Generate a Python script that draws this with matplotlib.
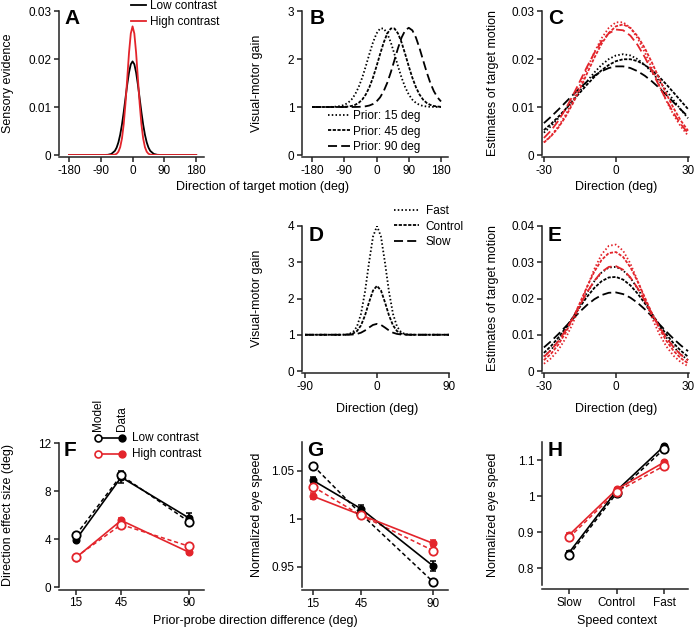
import numpy as np
import matplotlib.pyplot as plt

plt.rcParams['font.family'] = ['Liberation Sans', 'DejaVu Sans']
plt.rcParams['lines.scale_dashes'] = False
plt.rcParams['axes.unicode_minus'] = False

RED = '#e3242b'
DOT = (0, (1.1, 1.6))
DASH = (0, (2.3, 1.1))
LONG = (0, (6.5, 3.0))

# ---- panel A: sensory evidence ----
A_x = [-180, -80, -70, -60, -50, -45, -40, -35, -30, -25, -20, -15, -10, -5, 0,
       5, 10, 15, 20, 25, 30, 35, 40, 45, 50, 60, 70, 80, 180]
A_low = [0, 0.00001, 0.00004, 0.00022, 0.00086, 0.00155, 0.00264, 0.00422, 0.00633,
         0.00893, 0.01183, 0.01472, 0.01721, 0.01890, 0.0195, 0.01890, 0.01721,
         0.01472, 0.01183, 0.00893, 0.00633, 0.00422, 0.00264, 0.00155, 0.00086,
         0.00022, 0.00004, 0.00001, 0]
A_high = [0, 0, 0, 0.00001, 0.00009, 0.00026, 0.00069, 0.00163, 0.00343, 0.00643,
          0.01075, 0.01603, 0.02133, 0.02531, 0.0268, 0.02531, 0.02133, 0.01603,
          0.01075, 0.00643, 0.00343, 0.00163, 0.00069, 0.00026, 0.00009, 0.00001,
          0, 0, 0]

# ---- panel B: visual-motor gain for different priors ----
B_x = list(range(-180, 181, 10))
B_p15 = [1.0, 1.0, 1.0, 1.0, 1.0, 1.002, 1.004, 1.010, 1.021, 1.044, 1.085, 1.153,
         1.260, 1.412, 1.610, 1.848, 2.103, 2.343, 2.532, 2.636, 2.636, 2.532, 2.343,
         2.103, 1.848, 1.610, 1.412, 1.260, 1.153, 1.085, 1.044, 1.021, 1.010, 1.004,
         1.002, 1.001, 1.0]
B_p45 = [1.0, 1.0, 1.0, 1.0, 1.0, 1.0, 1.0, 1.0, 1.001, 1.004, 1.010, 1.021, 1.044,
         1.085, 1.153, 1.260, 1.412, 1.610, 1.848, 2.103, 2.343, 2.532, 2.636, 2.636,
         2.532, 2.343, 2.103, 1.848, 1.610, 1.412, 1.260, 1.153, 1.085, 1.044, 1.021,
         1.010, 1.004]
B_p90 = [1.0, 1.0, 1.0, 1.0, 1.0, 1.0, 1.0, 1.0, 1.0, 1.0, 1.0, 1.0, 1.001, 1.003,
         1.006, 1.015, 1.031, 1.062, 1.115, 1.201, 1.330, 1.505, 1.726, 1.975, 2.227,
         2.447, 2.597, 2.65, 2.597, 2.447, 2.227, 1.975, 1.726, 1.505, 1.330, 1.201,
         1.115]
B_labels = ['Prior: 15 deg', 'Prior: 45 deg', 'Prior: 90 deg']

# ---- panel C: estimates, prior conditions ----
C_x = list(range(-30, 31, 3))
C_low_15 = [0.00465, 0.00604, 0.00765, 0.00946, 0.01140, 0.01341, 0.01538, 0.01720,
            0.01877, 0.01998, 0.02074, 0.02100, 0.02074, 0.01998, 0.01877, 0.01720,
            0.01538, 0.01341, 0.01140, 0.00946, 0.00765]
C_low_45 = [0.00519, 0.00649, 0.00796, 0.00957, 0.01127, 0.01300, 0.01469, 0.01627,
            0.01765, 0.01876, 0.01955, 0.01995, 0.01995, 0.01955, 0.01876, 0.01765,
            0.01627, 0.01469, 0.01300, 0.01127, 0.00957]
C_low_90 = [0.00664, 0.00799, 0.00945, 0.01097, 0.01249, 0.01397, 0.01533, 0.01651,
            0.01746, 0.01812, 0.01846, 0.01846, 0.01812, 0.01746, 0.01651, 0.01533,
            0.01397, 0.01249, 0.01097, 0.00945, 0.00799]
C_high_15 = [0.00262, 0.00403, 0.00592, 0.00834, 0.01125, 0.01455, 0.01802, 0.02139,
             0.02432, 0.02649, 0.02765, 0.02765, 0.02649, 0.02432, 0.02139, 0.01802,
             0.01455, 0.01125, 0.00834, 0.00592, 0.00403]
C_high_45 = [0.00260, 0.00393, 0.00571, 0.00797, 0.01069, 0.01377, 0.01705, 0.02027,
             0.02316, 0.02543, 0.02682, 0.02720, 0.02647, 0.02476, 0.02226, 0.01922,
             0.01595, 0.01271, 0.00974, 0.00716, 0.00506]
C_high_90 = [0.00355, 0.00512, 0.00713, 0.00957, 0.01236, 0.01538, 0.01843, 0.02128,
             0.02366, 0.02534, 0.02614, 0.02598, 0.02487, 0.02293, 0.02037, 0.01742,
             0.01436, 0.01140, 0.00871, 0.00642, 0.00455]

# ---- panel D: visual-motor gain for speed contexts ----
D_x = [-90, -60, -45, -40, -35, -30, -25, -20, -15, -10, -5, 0,
       5, 10, 15, 20, 25, 30, 35, 40, 45, 60, 90]
D_fast = [1.0, 1.0, 1.0, 1.004, 1.019, 1.073, 1.227, 1.575, 2.184, 2.985, 3.706, 4.0,
          3.706, 2.985, 2.184, 1.575, 1.227, 1.073, 1.019, 1.004, 1.0, 1.0, 1.0]
D_control = [1.0, 1.0, 1.0, 1.002, 1.009, 1.033, 1.102, 1.259, 1.533, 1.893, 2.218,
             2.35, 2.218, 1.893, 1.533, 1.259, 1.102, 1.033, 1.009, 1.002, 1.0, 1.0, 1.0]
D_slow = [1.0, 1.0, 1.0, 1.0, 1.002, 1.007, 1.023, 1.057, 1.118, 1.198, 1.271, 1.3,
          1.271, 1.198, 1.118, 1.057, 1.023, 1.007, 1.002, 1.0, 1.0, 1.0, 1.0]
D_labels = ['Fast', 'Control', 'Slow']

# ---- panel E: estimates, speed contexts ----
E_x = list(range(-30, 31, 3))
E_low_fast = [0.00400, 0.00589, 0.00832, 0.01126, 0.01461, 0.01818, 0.02168, 0.02478,
              0.02716, 0.02853, 0.02873, 0.02774, 0.02567, 0.02278, 0.01937, 0.01579,
              0.01234, 0.00924, 0.00664, 0.00457, 0.00302]
E_low_ctrl = [0.00500, 0.00691, 0.00921, 0.01187, 0.01475, 0.01771, 0.02051, 0.02293,
              0.02476, 0.02580, 0.02595, 0.02520, 0.02362, 0.02137, 0.01867, 0.01574,
              0.01281, 0.01006, 0.00763, 0.00559, 0.00395]
E_low_slow = [0.00650, 0.00824, 0.01017, 0.01223, 0.01434, 0.01639, 0.01825, 0.01980,
              0.02094, 0.02158, 0.02167, 0.02121, 0.02023, 0.01880, 0.01703, 0.01504,
              0.01294, 0.01085, 0.00886, 0.00706, 0.00548]
E_high_fast = [0.00200, 0.00351, 0.00579, 0.00898, 0.01310, 0.01797, 0.02319, 0.02815,
               0.03215, 0.03453, 0.03488, 0.03315, 0.02963, 0.02491, 0.01970, 0.01465,
               0.01025, 0.00675, 0.00418, 0.00243, 0.00133]
E_high_ctrl = [0.00300, 0.00479, 0.00729, 0.01053, 0.01444, 0.01882, 0.02331, 0.02742,
               0.03064, 0.03253, 0.03281, 0.03143, 0.02861, 0.02474, 0.02033, 0.01586,
               0.01176, 0.00829, 0.00554, 0.00352, 0.00213]
E_high_slow = [0.00392, 0.00580, 0.00823, 0.01119, 0.01457, 0.01819, 0.02174, 0.02490,
               0.02732, 0.02872, 0.02893, 0.02792, 0.02581, 0.02285, 0.01939, 0.01576,
               0.01228, 0.00916, 0.00655, 0.00448, 0.00294]

# ---- panel F: direction effect size ----
F_x = [15, 45, 90]
F_low_data = [3.95, 9.15, 5.75]
F_low_err = [0.2, 0.5, 0.4]
F_low_model = [4.35, 9.3, 5.45]
F_high_data = [2.45, 5.55, 2.9]
F_high_err = [0.15, 0.2, 0.15]
F_high_model = [2.5, 5.2, 3.4]

# ---- panel G: eye speed vs prior-probe difference ----
G_x = [15, 45, 90]
G_low_data = [1.040, 1.0105, 0.951]
G_low_err = [0.004, 0.004, 0.005]
G_low_model = [1.0555, 1.005, 0.9345]
G_high_data = [1.0235, 1.004, 0.9745]
G_high_err = [0.003, 0.002, 0.003]
G_high_model = [1.0335, 1.0035, 0.967]

# ---- panel H: eye speed vs speed context ----
H_ctx = ['Slow', 'Control', 'Fast']
H_low_data = [0.843, 1.015, 1.139]
H_low_err = [0.004, 0.004, 0.004]
H_low_model = [0.836, 1.008, 1.131]
H_high_data = [0.892, 1.0185, 1.094]
H_high_err = [0.004, 0.004, 0.004]
H_high_model = [0.885, 1.012, 1.084]

W, H = 698, 632
fig = plt.figure(figsize=(W / 100, H / 100), dpi=100)


def make_ax(x0, x1, ytop, ybot, off=1.5):
    ax = fig.add_axes([x0 / W, 1 - ybot / H, (x1 - x0) / W, (ybot - ytop) / H])
    ax.patch.set_alpha(0)
    ax.spines['top'].set_visible(False)
    ax.spines['right'].set_visible(False)
    ax.spines['bottom'].set_position(('outward', off))
    for s in ['left', 'bottom']:
        ax.spines[s].set_linewidth(1.1)
        ax.spines[s].set_color('#222222')
    ax.tick_params(direction='out', length=3.5, width=1.1, labelsize=8.5,
                   color='#222222', pad=2)
    return ax


def letter(ax_x, ax_y, s):
    fig.text(ax_x / W, 1 - ax_y / H, s, fontsize=15, fontweight='bold', va='top', ha='left')


def ylab(x, y, s):
    fig.text(x / W, 1 - y / H, s, rotation=90, fontsize=9, ha='center', va='center')


def xlab(x, y, s):
    fig.text(x / W, 1 - y / H, s, fontsize=9, ha='center', va='center')


lw = 1.3

# A
ax = make_ax(59, 204, 11, 155)
ax.plot(A_x, A_low, color='black', lw=lw, label='Low contrast')
ax.plot(A_x, A_high, color=RED, lw=lw, label='High contrast')
ax.set_xlim(-208, 202)
ax.set_ylim(0, 0.03)
ax.set_xticks([-180, -90, 0, 90, 180])
ax.set_yticks([0, 0.01, 0.02, 0.03], ['0', '0.01', '0.02', '0.03'])
fig.legend(loc='upper left', bbox_to_anchor=(131 / W, 1 - 0 / H), frameon=False,
           fontsize=8.5, borderpad=0, borderaxespad=0, handlelength=1.3,
           handletextpad=0.35, labelspacing=0.35)
letter(64, 9, 'A')
ylab(8, 83, 'Sensory evidence')

# B
ax = make_ax(302, 448, 11, 155)
h1, = ax.plot(B_x, B_p15, color='black', lw=lw, ls=DOT)
h2, = ax.plot(B_x, B_p45, color='black', lw=lw, ls=DASH)
h3, = ax.plot(B_x, B_p90, color='black', lw=lw, ls=LONG)
ax.set_xlim(-208, 199.5)
ax.set_ylim(0, 3)
ax.set_xticks([-180, -90, 0, 90, 180])
ax.set_yticks([0, 1, 2, 3])
fig.legend([h1, h2, h3], B_labels, loc='upper left', bbox_to_anchor=(328 / W, 1 - 110 / H),
           frameon=False, fontsize=8.5, borderpad=0, borderaxespad=0, handlelength=1.9,
           handletextpad=0.25, labelspacing=0.3)
letter(310, 9, 'B')
ylab(257, 83, 'Visual-motor gain')
xlab(262, 187, 'Direction of target motion (deg)')

# C
ax = make_ax(542, 689, 11, 155)
for ys, st in [(C_low_15, DOT), (C_low_45, DASH), (C_low_90, LONG)]:
    ax.plot(C_x, ys, color='black', lw=lw, ls=st)
for ys, st in [(C_high_15, DOT), (C_high_45, DASH), (C_high_90, LONG)]:
    ax.plot(C_x, ys, color=RED, lw=lw, ls=st)
ax.set_xlim(-30.8, 30.4)
ax.set_ylim(0, 0.03)
ax.set_xticks([-30, 0, 30])
ax.set_yticks([0, 0.01, 0.02, 0.03], ['0', '0.01', '0.02', '0.03'])
letter(548, 9, 'C')
ylab(493, 83, 'Estimates of target motion')
xlab(616, 187, 'Direction (deg)')

# D
ax = make_ax(302, 449, 226, 371)
h1, = ax.plot(D_x, D_fast, color='black', lw=lw, ls=DOT)
h2, = ax.plot(D_x, D_control, color='black', lw=lw, ls=DASH)
h3, = ax.plot(D_x, D_slow, color='black', lw=lw, ls=LONG)
ax.set_xlim(-93.75, 90)
ax.set_ylim(0, 4)
ax.set_xticks([-90, 0, 90])
ax.set_yticks([0, 1, 2, 3, 4])
fig.legend([h1, h2, h3], D_labels, loc='upper left', bbox_to_anchor=(394 / W, 1 - 205 / H),
           frameon=False, fontsize=8.5, borderpad=0, borderaxespad=0, handlelength=2.1,
           handletextpad=0.6, labelspacing=0.3)
letter(309, 226, 'D')
ylab(257, 298, 'Visual-motor gain')
xlab(377, 409, 'Direction (deg)')

# E
ax = make_ax(542, 689, 226, 371)
for ys, st in [(E_low_fast, DOT), (E_low_ctrl, DASH), (E_low_slow, LONG)]:
    ax.plot(E_x, ys, color='black', lw=lw, ls=st)
for ys, st in [(E_high_fast, DOT), (E_high_ctrl, DASH), (E_high_slow, LONG)]:
    ax.plot(E_x, ys, color=RED, lw=lw, ls=st)
ax.set_xlim(-30.8, 30.4)
ax.set_ylim(0, 0.04)
ax.set_xticks([-30, 0, 30])
ax.set_yticks([0, 0.01, 0.02, 0.03, 0.04], ['0', '0.01', '0.02', '0.03', '0.04'])
letter(548, 226, 'E')
ylab(493, 298, 'Estimates of target motion')
xlab(616, 409, 'Direction (deg)')


def data_model(ax, x, data, err, model, color):
    ax.plot(x, model, color=color, lw=1.1, ls=(0, (3, 2)), zorder=2)
    ax.errorbar(x, data, yerr=err, color=color, lw=1.2, marker='o', ms=4.8,
                mfc=color, mec=color, capsize=2.5, capthick=1.1, zorder=3)
    ax.plot(x, model, ls='none', marker='o', ms=6, mfc='white', mec=color,
            mew=1.3, zorder=4)


# F
ax = make_ax(59, 204, 443, 587, off=2)
data_model(ax, F_x, F_low_data, F_low_err, F_low_model, 'black')
data_model(ax, F_x, F_high_data, F_high_err, F_high_model, RED)
ax.set_xlim(3.7, 100)
ax.set_ylim(0, 12)
ax.set_xticks(F_x)
ax.set_yticks([0, 4, 8, 12])
for yy, col, txt in [(1.035, 'black', 'Low contrast'), (0.924, RED, 'High contrast')]:
    ax.plot([0.269, 0.434], [yy, yy], transform=ax.transAxes, color=col, lw=1.2,
            clip_on=False)
    ax.plot([0.269], [yy], transform=ax.transAxes, marker='o', ms=5, mfc='white',
            mec=col, mew=1.2, clip_on=False)
    ax.plot([0.434], [yy], transform=ax.transAxes, marker='o', ms=5, mfc=col,
            mec=col, clip_on=False)
    ax.text(0.5, yy, txt, transform=ax.transAxes, fontsize=8.5, va='center', ha='left')
ax.text(0.269, 1.08, 'Model', transform=ax.transAxes, rotation=90, fontsize=8.5,
        ha='center', va='bottom')
ax.text(0.434, 1.08, 'Data', transform=ax.transAxes, rotation=90, fontsize=8.5,
        ha='center', va='bottom')
letter(64, 441, 'F')
ylab(8, 515, 'Direction effect size (deg)')
xlab(255, 621, 'Prior-probe direction difference (deg)')

# G
ax = make_ax(302, 448, 442, 587, off=2.5)
data_model(ax, G_x, G_low_data, G_low_err, G_low_model, 'black')
data_model(ax, G_x, G_high_data, G_high_err, G_high_model, RED)
ax.set_xlim(8.1, 99.4)
ax.set_ylim(0.929, 1.080)
ax.set_xticks(G_x)
ax.set_yticks([0.95, 1.0, 1.05], ['0.95', '1', '1.05'])
letter(307, 441, 'G')
ylab(257, 515, 'Normalized eye speed')

# H
hx = np.arange(len(H_ctx))
ax = make_ax(542, 688, 442, 585, off=3)
data_model(ax, hx, H_low_data, H_low_err, H_low_model, 'black')
data_model(ax, hx, H_high_data, H_high_err, H_high_model, RED)
ax.set_xlim(-0.57, 2.5)
ax.set_ylim(0.753, 1.15)
ax.set_xticks(hx, H_ctx)
ax.set_yticks([0.8, 0.9, 1.0, 1.1], ['0.8', '0.9', '1', '1.1'])
letter(548, 441, 'H')
ylab(493, 515, 'Normalized eye speed')
xlab(617, 621, 'Speed context')

fig.savefig('out.png', dpi=100)
